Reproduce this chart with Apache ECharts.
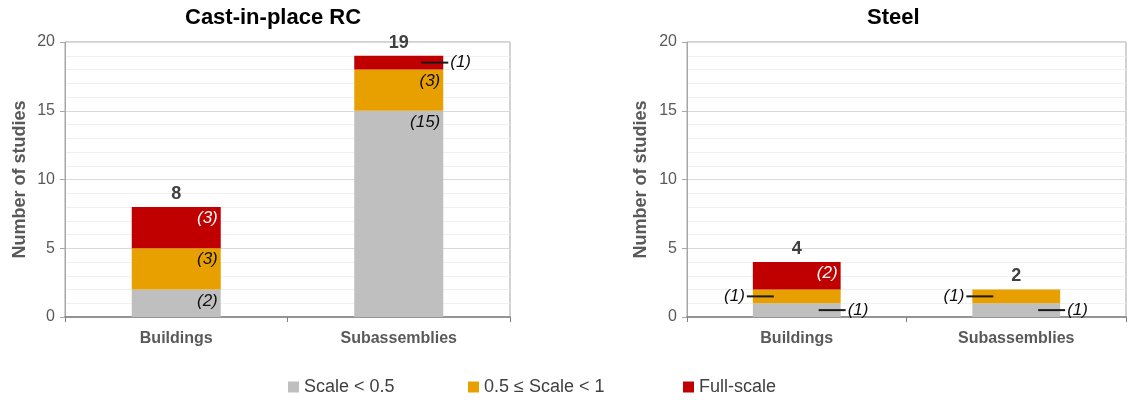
<!DOCTYPE html>
<html>
<head>
<meta charset="utf-8">
<script src="https://cdn.jsdelivr.net/npm/echarts@6/dist/echarts.min.js"></script>
<style>
  html, body { margin: 0; padding: 0; background: #ffffff; }
  #chart { width: 1130px; height: 401px; }
</style>
</head>
<body>
<div id="chart"></div>
<script>
// Study counts by specimen scale, for each structural system
const categories = ['Buildings', 'Subassemblies'];
const panelTitles = ['Cast-in-place RC', 'Steel'];
const seriesNames = ['Scale < 0.5', '0.5 \u2264 Scale < 1', 'Full-scale'];

const rcSmall = [2, 15];
const rcMid = [3, 3];
const rcFull = [3, 1];

const steelSmall = [1, 1];
const steelMid = [1, 1];
const steelFull = [2, 0];

const yMin = 0;
const yMax = 20;
const yStep = 5;

// Where each segment's count label goes: inside the bar, or outside with a leader line
const rcPlace = [['in', 'in'], ['in', 'in'], ['in', 'right']];
const steelPlace = [['right', 'right'], ['left', 'left'], ['in', 'none']];

const COLORS = ['#bfbfbf', '#e8a000', '#c00000'];
const FONT = 'Liberation Sans, Arial, sans-serif';
const AXIS_GRAY = '#595959';

function leaderRich() {
  return {
    ln: { width: 27, height: 2, backgroundColor: '#1a1a1a' },
    t: { fontFamily: FONT, fontStyle: 'italic', fontSize: 17, color: '#0d0d0d', padding: [0, 2, 0, 2] }
  };
}

function segmentLabel(place, white) {
  if (place === 'in') {
    return {
      show: true, position: 'insideTopRight', distance: 3,
      fontFamily: FONT, fontStyle: 'italic', fontSize: 17,
      color: white ? '#ffffff' : '#0d0d0d',
      formatter: p => '(' + p.value + ')'
    };
  }
  if (place === 'right') {
    return {
      show: true, position: 'right', distance: 0, offset: [-22, 0],
      formatter: p => '{ln|}{t|(' + p.value + ')}', rich: leaderRich()
    };
  }
  if (place === 'left') {
    return {
      show: true, position: 'left', distance: 0, offset: [21, 0],
      formatter: p => '{t|(' + p.value + ')}{ln|}', rich: leaderRich()
    };
  }
  return { show: false };
}

function panelSeries(idx, stackId, groups, places) {
  const out = groups.map((vals, s) => ({
    name: seriesNames[s],
    type: 'bar',
    stack: stackId,
    xAxisIndex: idx,
    yAxisIndex: idx,
    barWidth: '40%',
    itemStyle: { color: COLORS[s] },
    data: vals.map((v, c) => ({ value: v, label: segmentLabel(places[s][c], s === 2) }))
  }));
  const totals = categories.map((_, c) => groups.reduce((sum, g) => sum + g[c], 0));
  out.push({
    name: 'Total',
    type: 'bar',
    xAxisIndex: idx,
    yAxisIndex: idx,
    barWidth: '40%',
    barGap: '-100%',
    silent: true,
    itemStyle: { color: 'rgba(0,0,0,0)' },
    label: {
      show: true, position: 'top', distance: 4,
      fontFamily: FONT, fontWeight: 'bold', fontSize: 18, color: '#404040'
    },
    data: totals
  });
  return out;
}

function xAxis(idx) {
  return {
    type: 'category', gridIndex: idx, data: categories,
    axisLine: { lineStyle: { color: '#7f7f7f', width: 1.5 } },
    axisTick: { show: true, length: 5, lineStyle: { color: '#7f7f7f' } },
    axisLabel: { fontFamily: FONT, fontWeight: 'bold', fontSize: 16, color: AXIS_GRAY, margin: 14 }
  };
}

function yAxis(idx, gap) {
  return {
    type: 'value', gridIndex: idx, min: yMin, max: yMax, interval: yStep,
    name: 'Number of studies', nameLocation: 'middle', nameGap: gap, nameRotate: 90,
    nameTextStyle: { fontFamily: FONT, fontWeight: 'bold', fontSize: 18, color: AXIS_GRAY },
    axisLine: { show: true, lineStyle: { color: '#a6a6a6' } },
    axisTick: { show: true, length: 5, lineStyle: { color: '#a6a6a6' } },
    axisLabel: { fontFamily: FONT, fontSize: 16, color: AXIS_GRAY, margin: 10 },
    splitLine: { lineStyle: { color: '#d9d9d9' } },
    minorTick: { show: false, splitNumber: 5 },
    minorSplitLine: { show: true, lineStyle: { color: '#f0f0f0' } }
  };
}

function legendItem(i, left) {
  return {
    data: [seriesNames[i]], left: left, top: 378, padding: 0,
    icon: 'rect', itemWidth: 11, itemHeight: 11,
    textStyle: { fontFamily: FONT, fontSize: 18, color: '#404040' }
  };
}

const chart = echarts.init(document.getElementById('chart'), null, { renderer: 'canvas' });
chart.setOption({
  animation: false,
  backgroundColor: '#ffffff',
  title: [
    { text: panelTitles[0], left: 185, top: 7, padding: 0,
      textStyle: { fontFamily: FONT, fontWeight: 'bold', fontSize: 22, color: '#000000' } },
    { text: panelTitles[1], left: 867, top: 7, padding: 0,
      textStyle: { fontFamily: FONT, fontWeight: 'bold', fontSize: 22, color: '#000000' } }
  ],
  legend: [legendItem(0, 288), legendItem(1, 468), legendItem(2, 683)],
  grid: [
    { left: 65, right: 620, top: 42, bottom: 84, show: true, borderColor: '#a6a6a6', borderWidth: 1 },
    { left: 687, right: 4, top: 42, bottom: 84, show: true, borderColor: '#a6a6a6', borderWidth: 1 }
  ],
  xAxis: [xAxis(0), xAxis(1)],
  yAxis: [yAxis(0, 36), yAxis(1, 37)],
  series: [].concat(
    panelSeries(0, 'rc', [rcSmall, rcMid, rcFull], rcPlace),
    panelSeries(1, 'steel', [steelSmall, steelMid, steelFull], steelPlace)
  )
});
</script>
</body>
</html>
